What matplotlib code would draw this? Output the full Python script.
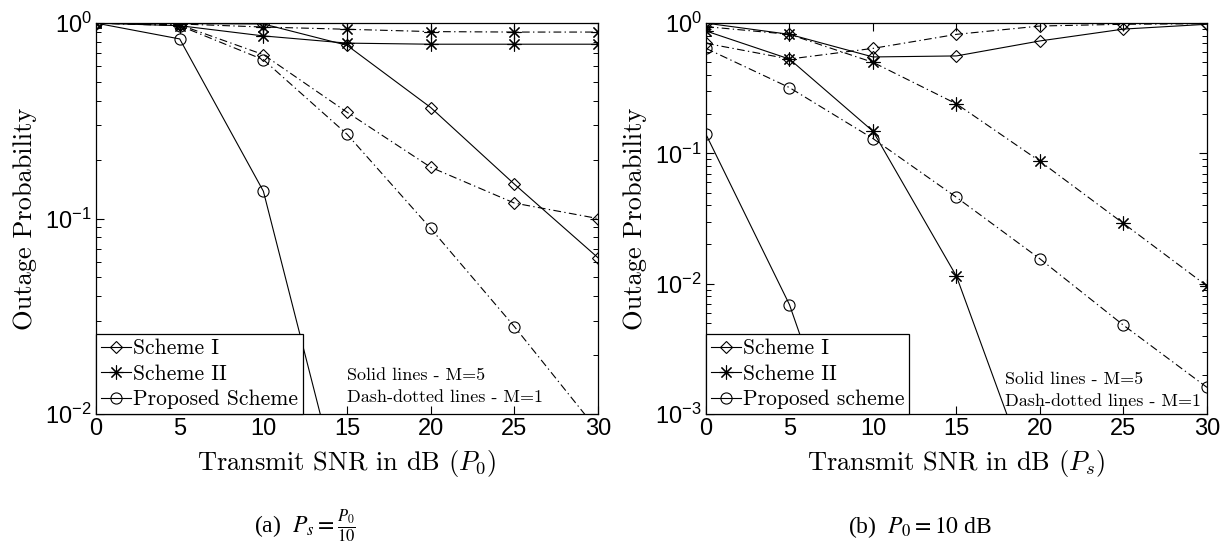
import numpy as np
import matplotlib as mpl
import matplotlib.pyplot as plt
from matplotlib.lines import Line2D

mpl.rcParams.update({
    "font.family": "cmr10",
    "mathtext.fontset": "cm",
    "axes.formatter.use_mathtext": True,
    "axes.linewidth": 0.9,
    "xtick.direction": "in", "ytick.direction": "in",
    "xtick.top": True, "ytick.right": True,
})

snr = [0, 5, 10, 15, 20, 25, 30]

# (a) Ps = P0/10
s1_m5_a = [1.0, 0.995, 0.99, 0.77, 0.37, 0.15, 0.063]
s1_m1_a = [1.0, 0.98, 0.69, 0.35, 0.183, 0.12, 0.10]
s2_m5_a = [1.0, 0.97, 0.86, 0.79, 0.78, 0.78, 0.78]
s2_m1_a = [1.0, 0.99, 0.955, 0.93, 0.905, 0.90, 0.90]
pr_m5_a = [1.0, 0.83, 0.138, 2.9e-3, 1e-4, 1e-5, 1e-6]
pr_m1_a = [1.0, 0.97, 0.65, 0.27, 0.089, 0.028, 0.0082]

# (b) P0 = 10 dB
s1_m5_b = [1.0, 0.82, 0.55, 0.56, 0.73, 0.90, 0.98]
s1_m1_b = [0.70, 0.53, 0.64, 0.82, 0.95, 0.98, 0.99]
s2_m5_b = [0.87, 0.53, 0.148, 0.0114, 2e-4, 1e-5, 1e-6]
s2_m1_b = [0.94, 0.82, 0.50, 0.24, 0.087, 0.029, 0.0096]
pr_m5_b = [0.14, 0.0069, 1e-4, 1e-5, 1e-6, 1e-7, 1e-8]
pr_m1_b = [0.64, 0.32, 0.13, 0.046, 0.0155, 0.0048, 0.0016]

yticks_a = [1e-2, 1e-1, 1e0]
yticks_b = [1e-3, 1e-2, 1e-1, 1e0]
ylabels_a = ["-2", "-1", "0"]
ylabels_b = ["-3", "-2", "-1", "0"]

STAR = (8, 2, 0)
DASHDOT = (0, (7, 3, 1.2, 3))
mk = dict(color="black", lw=0.8, mfc="none", mec="black", mew=0.8)

fig = plt.figure(figsize=(12.25, 5.44), dpi=100)
ax_a = fig.add_axes([0.0784, 0.239, 0.4098, 0.7185])
ax_b = fig.add_axes([0.5763, 0.239, 0.4090, 0.7185])


def draw(ax, series, yticks, ylabels, ymin, xlabel, legend_names, notes_y):
    (s1_5, s1_1, s2_5, s2_1, p_5, p_1) = series
    ax.plot(snr, s1_5, "-", marker="D", ms=6.5, **mk)
    ax.plot(snr, s1_1, linestyle=DASHDOT, marker="D", ms=6.5, **mk)
    ax.plot(snr, s2_5, "-", marker=STAR, ms=10, **mk)
    ax.plot(snr, s2_1, linestyle=DASHDOT, marker=STAR, ms=10, **mk)
    ax.plot(snr, p_5, "-", marker="o", ms=8, **mk)
    ax.plot(snr, p_1, linestyle=DASHDOT, marker="o", ms=8, **mk)

    ax.set_yscale("log")
    ax.set_xlim(0, 30)
    ax.set_ylim(ymin, 1)
    ax.set_xticks(snr)
    ax.set_xticklabels([str(v) for v in snr], fontfamily="Liberation Sans", fontsize=17)
    ax.set_yticks(yticks)
    ax.set_yticklabels([r"$\mathregular{10^{%s}}$" % s for s in ylabels],
                       fontfamily="Liberation Sans", fontsize=17)
    ax.yaxis.set_minor_locator(mpl.ticker.LogLocator(subs=np.arange(2, 10)))
    ax.yaxis.set_minor_formatter(mpl.ticker.NullFormatter())
    ax.tick_params(which="major", length=6, width=0.8, pad=3)
    ax.tick_params(which="minor", length=3.5, width=0.7)
    for sp in ax.spines.values():
        sp.set_color("black")

    ax.set_xlabel(xlabel, fontsize=19, labelpad=6)
    ax.set_ylabel("Outage Probability", fontsize=19, labelpad=6)

    handles = [
        Line2D([], [], linestyle="-", marker="D", ms=6.5, **mk),
        Line2D([], [], linestyle="-", marker=STAR, ms=10, **mk),
        Line2D([], [], linestyle="-", marker="o", ms=8, **mk),
    ]
    leg = ax.legend(handles, legend_names, loc="lower left", fontsize=15.5,
                    frameon=True, fancybox=False, framealpha=1, borderaxespad=0,
                    handlelength=1.4, handletextpad=0.1, labelspacing=0.28,
                    borderpad=0.22)
    leg.get_frame().set_edgecolor("black")
    leg.get_frame().set_linewidth(0.9)

    ax.text(notes_y[0], notes_y[1], "Solid lines - M=5", fontsize=13, va="center")
    ax.text(notes_y[0], notes_y[2], "Dash-dotted lines - M=1", fontsize=13, va="center")


draw(ax_a, (s1_m5_a, s1_m1_a, s2_m5_a, s2_m1_a, pr_m5_a, pr_m1_a),
     yticks_a, ylabels_a, 1e-2, r"Transmit SNR in dB ($P_0$)",
     ["Scheme I", "Scheme II", "Proposed Scheme"], (15.0, 0.0158, 0.0122))
draw(ax_b, (s1_m5_b, s1_m1_b, s2_m5_b, s2_m1_b, pr_m5_b, pr_m1_b),
     yticks_b, ylabels_b, 1e-3, r"Transmit SNR in dB ($P_s$)",
     ["Scheme I", "Scheme II", "Proposed scheme"], (17.9, 0.00186, 0.00126))

cap = dict(fontfamily="Liberation Serif", fontsize=17, ha="center", va="center",
           math_fontfamily="stix")
fig.text(0.249, 0.032, r"(a)  $P_s = \frac{P_0}{10}$", **cap)
fig.text(0.751, 0.032, r"(b)  $P_0 = 10$ dB", **cap)

fig.savefig("out.png", dpi=100)
